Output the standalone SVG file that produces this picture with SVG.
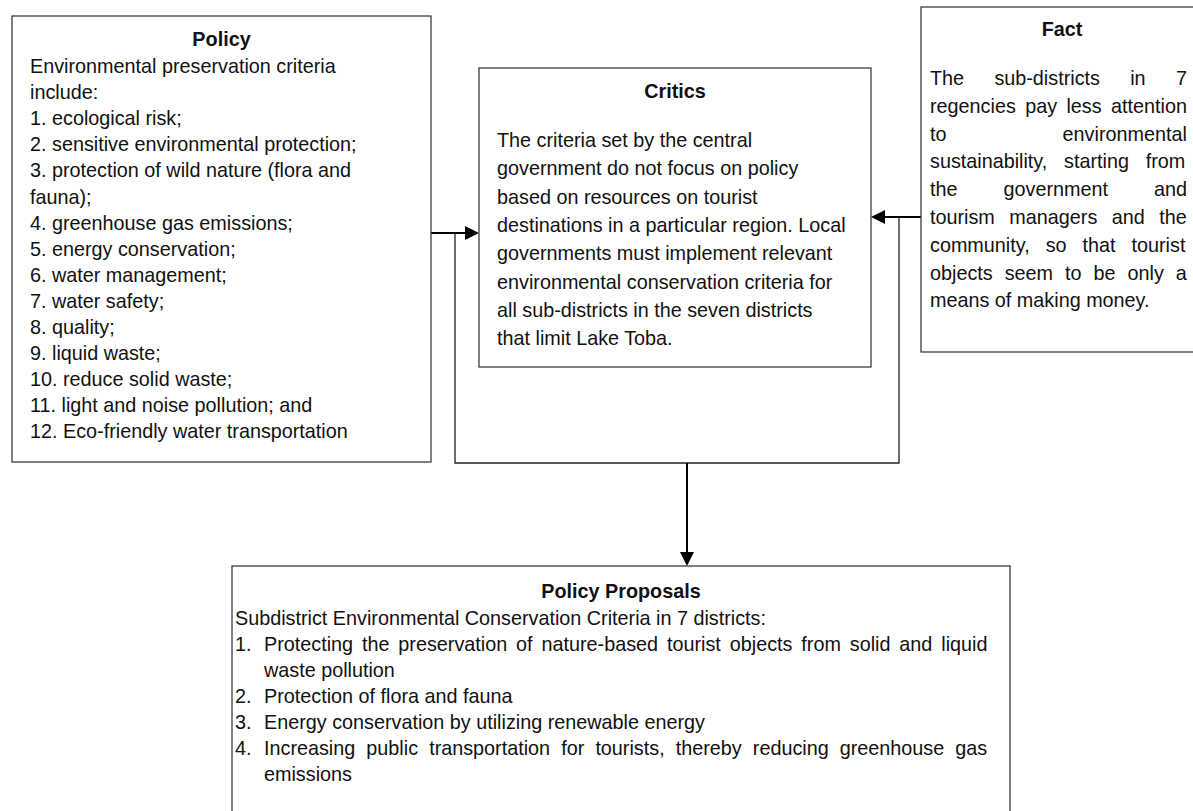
<svg xmlns="http://www.w3.org/2000/svg" width="1193" height="811" viewBox="0 0 1193 811">
<style>
.box{fill:#fff;stroke:#3c3c3c;stroke-width:1.3}
.t{font-family:"Liberation Sans",Arial,sans-serif;font-size:19.8px;fill:#111}
.b{font-weight:bold;text-anchor:middle}
.ln{fill:none;stroke:#222;stroke-width:1.3}
.ar{fill:none;stroke:#000;stroke-width:2}
</style>
<defs>
<marker id="ah" markerWidth="14" markerHeight="14" refX="10" refY="7" orient="auto" markerUnits="userSpaceOnUse">
<path d="M0,0 L14,7 L0,14 z" fill="#000"/>
</marker>
</defs>
<rect width="1193" height="811" fill="#fff"/>

<g id="connectors">
<polyline class="ln" points="455,233 455,463 899,463 899,217"/>
<line class="ar" x1="431" y1="233" x2="475" y2="233" marker-end="url(#ah)"/>
<line class="ar" x1="921" y1="217" x2="875" y2="217" marker-end="url(#ah)"/>
<line class="ar" x1="687" y1="463" x2="687" y2="562" marker-end="url(#ah)"/>
</g>

<g id="policy">
<rect class="box" x="12" y="16" width="419" height="446"/>
<text class="t b" x="221.5" y="46">Policy</text>
<text class="t" x="30" y="73">Environmental preservation criteria</text>
<text class="t" x="30" y="99.1">include:</text>
<text class="t" x="30" y="125.2">1. ecological risk;</text>
<text class="t" x="30" y="151.3">2. sensitive environmental protection;</text>
<text class="t" x="30" y="177.4">3. protection of wild nature (flora and</text>
<text class="t" x="30" y="203.5">fauna);</text>
<text class="t" x="30" y="229.6">4. greenhouse gas emissions;</text>
<text class="t" x="30" y="255.7">5. energy conservation;</text>
<text class="t" x="30" y="281.8">6. water management;</text>
<text class="t" x="30" y="307.9">7. water safety;</text>
<text class="t" x="30" y="334">8. quality;</text>
<text class="t" x="30" y="360.1">9. liquid waste;</text>
<text class="t" x="30" y="386.2">10. reduce solid waste;</text>
<text class="t" x="30" y="412.3">11. light and noise pollution; and</text>
<text class="t" x="30" y="438.4">12. Eco-friendly water transportation</text>
</g>

<g id="critics">
<rect class="box" x="479" y="68" width="392" height="299"/>
<text class="t b" x="675" y="98">Critics</text>
<text class="t" x="497" y="147">The criteria set by the central</text>
<text class="t" x="497" y="175.3">government do not focus on policy</text>
<text class="t" x="497" y="203.6">based on resources on tourist</text>
<text class="t" x="497" y="231.9">destinations in a particular region. Local</text>
<text class="t" x="497" y="260.2">governments must implement relevant</text>
<text class="t" x="497" y="288.5">environmental conservation criteria for</text>
<text class="t" x="497" y="316.8">all sub-districts in the seven districts</text>
<text class="t" x="497" y="345.1">that limit Lake Toba.</text>
</g>

<g id="fact">
<rect class="box" x="921" y="7" width="290" height="345"/>
<text class="t b" x="1062" y="36">Fact</text>
<text class="t" x="930" y="85" word-spacing="24.8">The sub-districts in 7</text>
<text class="t" x="930" y="112.8" word-spacing="3.9">regencies pay less attention</text>
<text class="t" x="930" y="140.6" word-spacing="110.6">to environmental</text>
<text class="t" x="930" y="168.4" word-spacing="11.3">sustainability, starting from</text>
<text class="t" x="930" y="196.2" word-spacing="40.5">the government and</text>
<text class="t" x="930" y="224" word-spacing="9">tourism managers and the</text>
<text class="t" x="930" y="251.8" word-spacing="10.5">community, so that tourist</text>
<text class="t" x="930" y="279.6" word-spacing="6.5">objects seem to be only a</text>
<text class="t" x="930" y="307.4">means of making money.</text>
</g>

<g id="proposals">
<rect class="box" x="232" y="566" width="778" height="260"/>
<text class="t b" x="621" y="598">Policy Proposals</text>
<text class="t" x="235" y="625">Subdistrict Environmental Conservation Criteria in 7 districts:</text>
<text class="t" x="235" y="651">1.</text>
<text class="t" x="264" y="651" word-spacing="3.4">Protecting the preservation of nature-based tourist objects from solid and liquid</text>
<text class="t" x="264" y="677">waste pollution</text>
<text class="t" x="235" y="703">2.</text>
<text class="t" x="264" y="703">Protection of flora and fauna</text>
<text class="t" x="235" y="729">3.</text>
<text class="t" x="264" y="729">Energy conservation by utilizing renewable energy</text>
<text class="t" x="235" y="755">4.</text>
<text class="t" x="264" y="755" word-spacing="5.6">Increasing public transportation for tourists, thereby reducing greenhouse gas</text>
<text class="t" x="264" y="781">emissions</text>
</g>
</svg>
